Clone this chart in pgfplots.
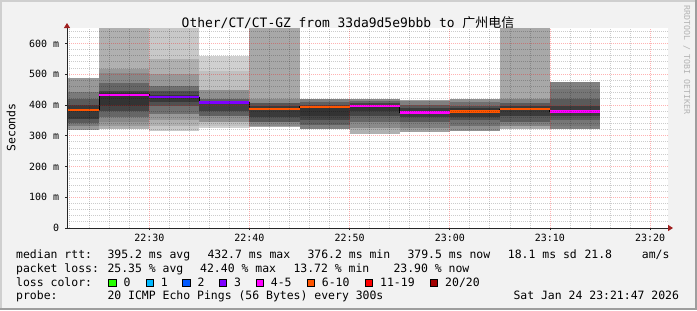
\documentclass[border=0pt]{standalone}
\usepackage{fontspec}
\setmainfont{DejaVu Sans Mono}
\newfontfamily\cjk{Noto Sans CJK SC}
\usepackage{pgfplots}
\pgfplotsset{compat=1.18}
\usetikzlibrary{arrows.meta}

\definecolor{bgc}{HTML}{F2F2F2}
\definecolor{shadeA}{HTML}{CFCFCF}
\definecolor{shadeB}{HTML}{9E9E9E}
\definecolor{lc0}{HTML}{26FF00}
\definecolor{lc1}{HTML}{00B8FF}
\definecolor{lc2}{HTML}{0059FF}
\definecolor{lc3}{HTML}{7E00FF}
\definecolor{lc4}{HTML}{FF00FF}
\definecolor{lc6}{HTML}{FF5500}
\definecolor{lc11}{HTML}{FF0000}
\definecolor{lc20}{HTML}{A10000}
\definecolor{arrowc}{HTML}{A02020}
\definecolor{wm}{HTML}{B4B4B4}

% smoke layer: x1 x2 low high gray(0-255)
\newcommand{\smk}[5]{\addplot[draw=none, fill={rgb,255:red,#5;green,#5;blue,#5}, forget plot] coordinates {(#1,#3) (#2,#3) (#2,#4) (#1,#4)} -- cycle;}
\newcommand{\med}[4]{\addplot[draw=#4, line width=2.4bp, forget plot] coordinates {(#1,#3) (#2,#3)};}

\newcommand{\lfont}{\fontsize{11.5}{13}\selectfont}

\begin{document}
\begin{tikzpicture}[x=1bp,y=1bp]
% canvas
\fill[bgc] (0,0) rectangle (697,310);
\fill[shadeA] (0,0) rectangle (2,310);
\fill[shadeA] (0,308) rectangle (697,310);
\fill[shadeB] (695,0) rectangle (697,310);
\fill[shadeB] (0,0) rectangle (697,2);

\begin{axis}[
  at={(67bp,82bp)}, anchor=south west,
  width=601bp, height=200bp, scale only axis,
  xmin=21.7833, xmax=81.7833, ymin=0, ymax=650,
  axis on top,
  axis background/.style={fill=white},
  axis lines=left,
  axis line style={draw=black!85, line width=0.9bp, shorten >=-5bp, -{Triangle[length=5bp,width=6bp,color=arrowc]}},
  xtick={30,40,50,60,70,80},
  xticklabels={22:30,22:40,22:50,23:00,23:10,23:20},
  minor xtick={22,24,26,28,32,34,36,38,42,44,46,48,52,54,56,58,62,64,66,68,72,74,76,78},
  ytick={0,100,200,300,400,500,600},
  yticklabels={0,100 m,200 m,300 m,400 m,500 m,600 m},
  minor ytick={20,40,60,80,120,140,160,180,220,240,260,280,320,340,360,380,420,440,460,480,520,540,560,580,620,640},
  grid=both,
  major grid style={draw=red, opacity=0.3, line width=0.8bp, dash pattern=on 1bp off 1bp},
  minor grid style={draw=black, opacity=0.2, line width=0.8bp, dash pattern=on 1bp off 1bp},
  tick align=outside, major tick length=2bp, minor tick length=0bp,
  tick style={draw=black!85, line width=0.8bp},
  ticklabel style={font=\fontsize{10}{12}\selectfont},
  yticklabel style={anchor=east, inner sep=0pt, xshift=-5.7bp},
  xticklabel style={anchor=north, inner sep=0pt, yshift=-4bp},
]
% col 1
\smk{21.7833}{25}{320}{488}{153}
\smk{21.7833}{25}{330}{442}{122}
\smk{21.7833}{25}{340}{420}{90}
\smk{21.7833}{25}{355}{400}{58}
% col 2
\smk{25}{30}{321}{650}{176}
\smk{25}{30}{330}{517}{153}
\smk{25}{30}{345}{505}{136}
\smk{25}{30}{360}{470}{102}
\smk{25}{30}{380}{445}{68}
\smk{25}{30}{395}{438}{51}
% col 3
\smk{30}{35}{316}{650}{200}
\smk{30}{35}{330}{549}{176}
\smk{30}{35}{350}{500}{152}
\smk{30}{35}{372}{461}{112}
\smk{30}{35}{395}{445}{80}
\smk{30}{35}{410}{432}{56}
% col 4
\smk{35}{40}{324}{559}{208}
\smk{35}{40}{330}{510}{192}
\smk{35}{40}{345}{450}{144}
\smk{35}{40}{365}{420}{96}
\smk{35}{40}{380}{412}{64}
% col 5
\smk{40}{45}{327}{650}{168}
\smk{40}{45}{333}{418}{136}
\smk{40}{45}{345}{405}{85}
\smk{40}{45}{360}{395}{58}
% col 6
\smk{45}{50}{321}{418}{128}
\smk{45}{50}{335}{410}{96}
\smk{45}{50}{350}{400}{68}
\smk{45}{50}{365}{397}{51}
% col 7
\smk{50}{55}{305}{418}{176}
\smk{50}{55}{325}{418}{138}
\smk{50}{55}{345}{412}{102}
\smk{50}{55}{365}{405}{69}
\smk{50}{55}{380}{400}{51}
% col 8
\smk{55}{60}{313}{415}{160}
\smk{55}{60}{325}{412}{128}
\smk{55}{60}{345}{400}{90}
\smk{55}{60}{360}{390}{60}
% col 9
\smk{60}{65}{316}{418}{144}
\smk{60}{65}{330}{410}{112}
\smk{60}{65}{350}{398}{80}
\smk{60}{65}{362}{390}{54}
% col 10
\smk{65}{70}{321}{650}{168}
\smk{65}{70}{330}{418}{128}
\smk{65}{70}{345}{405}{90}
\smk{65}{70}{365}{395}{58}
% col 11
\smk{70}{75}{321}{474}{128}
\smk{70}{75}{330}{452}{118}
\smk{70}{75}{350}{420}{90}
\smk{70}{75}{365}{395}{60}
% median connector
\addplot[black, line width=1bp, const plot, forget plot] coordinates {(21.7833,384) (25,433) (30,425) (35,408) (40,387) (45,394) (50,396) (55,376) (60,378) (65,386) (70,379) (75,379)};
\med{21.7833}{25}{384}{lc6}
\med{25}{30}{433}{lc4}
\med{30}{35}{425}{lc3}
\med{35}{40}{408}{lc3}
\med{40}{45}{387}{lc6}
\med{45}{50}{394}{lc6}
\med{50}{55}{396}{lc4}
\med{55}{60}{376}{lc4}
\med{60}{65}{378}{lc6}
\med{65}{70}{386}{lc6}
\med{70}{75}{379}{lc4}
\end{axis}

% title
\node[anchor=base, inner sep=0pt, font=\fontsize{13}{15}\selectfont] at (348,310-27.3) {Other/CT/CT-GZ from 33da9d5e9bbb to {\cjk 广州电信}};
% y label
\node[rotate=90, inner sep=0pt, font=\lfont] at (11,310-127.5) {Seconds};
% watermark
\node[rotate=-90, anchor=west, inner sep=0pt, text=wm, font=\fontsize{8.3}{10}\selectfont] at (686.7,305) {RRDTOOL / TOBI OETIKER};

% legend
\begin{scope}[every node/.style={anchor=base west, inner sep=0pt, font=\lfont}]
\node at (16,310-258.5) {median rtt:};
\node at (107.3,310-258.5) {395.2 ms avg};
\node at (207.3,310-258.5) {432.7 ms max};
\node at (307.3,310-258.5) {376.2 ms min};
\node at (407.3,310-258.5) {379.5 ms now};
\node at (507.7,310-258.5) {18.1 ms sd};
\node at (584.3,310-258.5) {21.8};
\node at (641.7,310-258.5) {am/s};
\node at (16,310-272.3) {packet loss:};
\node at (107.3,310-272.3) {25.35 \% avg};
\node at (200,310-272.3) {42.40 \% max};
\node at (293.3,310-272.3) {13.72 \% min};
\node at (393.3,310-272.3) {23.90 \% now};
\node at (16,310-286) {loss color:};
\node at (123.3,310-286) {0};
\node at (160.7,310-286) {1};
\node at (197.3,310-286) {2};
\node at (234,310-286) {3};
\node at (270.7,310-286) {4-5};
\node at (321.7,310-286) {6-10};
\node at (380,310-286) {11-19};
\node at (445,310-286) {20/20};
\node at (16,310-299.5) {probe:};
\node at (107.3,310-299.5) {20 ICMP Echo Pings (56 Bytes) every 300s};
\node at (513.3,310-299.5) {Sat Jan 24 23:21:47 2026};
\end{scope}
% loss color boxes
\foreach \bx/\bc in {108.7/lc0,146/lc1,182.7/lc2,219.3/lc3,256/lc4,307.3/lc6,365/lc11,430/lc20}{
  \filldraw[fill=\bc, draw=black, line width=0.9bp] (\bx,310-286.3) rectangle ++(7.3,7.3);
}
\pgfresetboundingbox
\path (0,0) rectangle (697,310);
\end{tikzpicture}
\end{document}
